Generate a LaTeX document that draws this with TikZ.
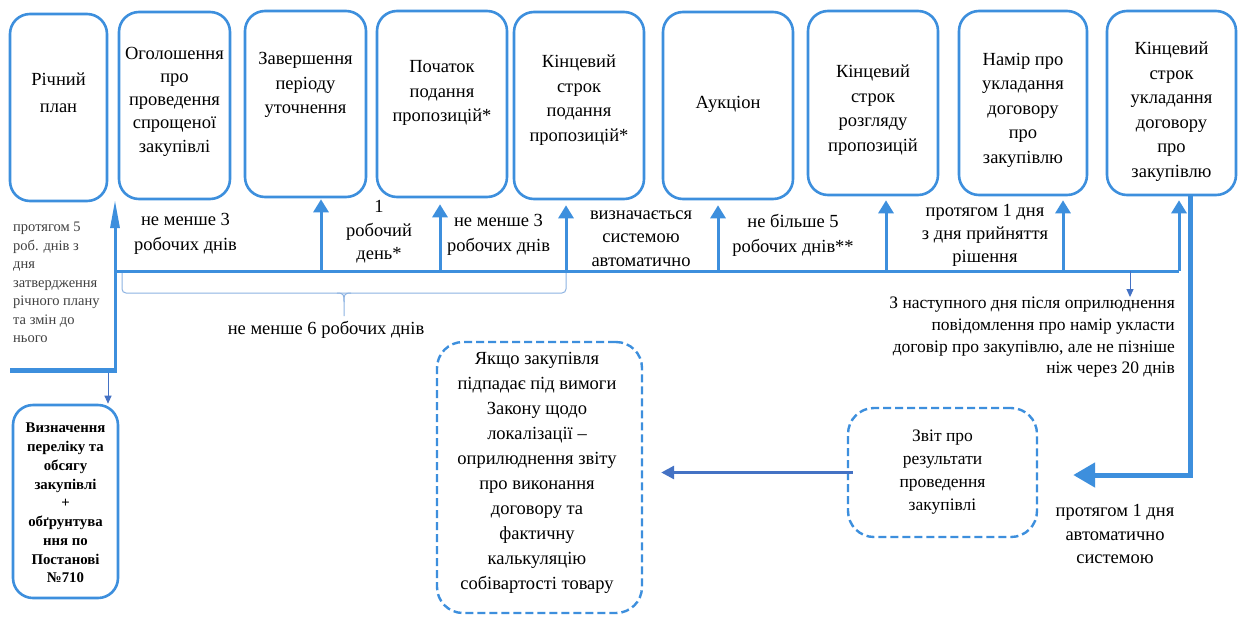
\documentclass[tikz,border=0pt]{standalone}
\usepackage{fontspec}
\setmainfont{LiberationSerif}[Extension=.ttf, UprightFont=*-Regular, BoldFont=*-Bold, ItalicFont=*-Italic, BoldItalicFont=*-BoldItalic]
\usetikzlibrary{arrows.meta}
\definecolor{bl}{RGB}{61,143,221}
\definecolor{dbl}{RGB}{68,114,196}
\definecolor{lbl}{RGB}{141,179,226}
\definecolor{gr}{RGB}{64,64,64}
\begin{document}
\begin{tikzpicture}[x=1pt,y=-1pt,
  box/.style={draw=bl, line width=2.6pt, rounded corners=20pt, inner sep=0pt},
  dbox/.style={draw=bl, line width=2.4pt, rounded corners=26pt, dash pattern=on 8pt off 4pt, inner sep=0pt},
  txt/.style={align=center, font=\fontsize{18.5}{24.5}\selectfont, inner sep=0pt},
  upar/.style={draw=bl, line width=3pt, -{Triangle[width=15pt,length=13pt]}, shorten >=4pt},
  thinar/.style={draw=dbl, line width=1pt, -{Triangle[width=7pt,length=8pt]}},
]
\useasboundingbox[fill=white] (0,0) rectangle (1238,616);

% top boxes
\node[box, minimum width=97pt,  minimum height=187pt] (b1) at (58.5,107.5) {};
\node[box, minimum width=111pt, minimum height=187pt] (b2) at (174.5,105.5) {};
\node[box, minimum width=121pt, minimum height=186pt] (b3) at (305.5,104) {};
\node[box, minimum width=130pt, minimum height=186pt] (b4) at (442,104) {};
\node[box, minimum width=130pt, minimum height=187pt] (b5) at (579,105.5) {};
\node[box, minimum width=130pt, minimum height=187pt] (b6) at (728,105.5) {};
\node[box, minimum width=130pt, minimum height=184pt] (b7) at (873,103) {};
\node[box, minimum width=128pt, minimum height=184pt] (b8) at (1023,103) {};
\node[box, minimum width=129pt, minimum height=184pt] (b9) at (1171.5,103) {};

% top box texts
\node[txt, font=\fontsize{18.5}{27}\selectfont] (t1) at (58.5,93) {Річний\\план};
\node[txt, font=\fontsize{18.5}{23.3}\selectfont] (t2) at (174.5,101.5) {Оголошення\\про\\проведення\\спрощеної\\закупівлі};
\node[txt] (t3) at (305.5,85) {Завершення\\періоду\\уточнення};
\node[txt] (t4) at (442,93) {Початок\\подання\\пропозицій*};
\node[txt] (t5) at (579,100) {Кінцевий\\строк\\подання\\пропозицій*};
\node[txt] (t6) at (728,104) {Аукціон};
\node[txt] (t7) at (873,110) {Кінцевий\\строк\\розгляду\\пропозицій};
\node[txt] (t8) at (1023,110) {Намір про\\укладання\\договору\\про\\закупівлю};
\node[txt] (t9) at (1171.5,111.5) {Кінцевий\\строк\\укладання\\договору\\про\\закупівлю};

% lower boxes
\node[box, minimum width=105pt, minimum height=193pt] (bv) at (65.5,501.5) {};
\node[txt, font=\fontsize{14.8}{18.75}\selectfont\bfseries] (tv) at (65.5,503) {Визначення\\переліку та\\обсягу\\закупівлі\\+\\обґрунтува\\ння по\\Постанові\\№710};
\node[dbox, minimum width=189pt, minimum height=129pt] (zv) at (942.5,472.5) {};
\node[txt, font=\fontsize{17.5}{23}\selectfont] (tz) at (942.5,472) {Звіт про\\результати\\проведення\\закупівлі};
\node[dbox, minimum width=205pt, minimum height=271pt] (lv) at (539.5,477.5) {};
\node[txt, font=\fontsize{18.5}{25}\selectfont] (tl) at (537,472.5) {Якщо закупівля\\підпадає під вимоги\\Закону щодо\\локалізації –\\оприлюднення звіту\\про виконання\\договору та\\фактичну\\калькуляцію\\собівартості товару};

% labels
\node[txt, font=\fontsize{18.5}{25}\selectfont] (l1) at (185.5,233.5) {не менше 3\\робочих днів};
\node[txt, font=\fontsize{18.5}{23.5}\selectfont] (l2) at (379,232) {1\\робочий\\день*};
\node[txt, font=\fontsize{18.5}{25}\selectfont] (l3) at (498.5,234.5) {не менше 3\\робочих днів};
\node[txt, font=\fontsize{18.5}{23.5}\selectfont] (l4) at (641,238.5) {визначається\\системою\\автоматично};
\node[txt, font=\fontsize{18.5}{25}\selectfont] (l5) at (793,235.5) {не більше 5\\робочих днів**};
\node[txt, font=\fontsize{18.5}{23}\selectfont] (l6) at (985,235) {протягом 1 дня\\з дня прийняття\\рішення};
\node[txt] (l7) at (326,330) {не менше 6 робочих днів};
\node[txt, align=left, anchor=west, text=gr, font=\fontsize{14.5}{18.5}\selectfont] (l8) at (13,282.5) {протягом 5\\роб. днів з\\дня\\затвердження\\річного плану\\та змін до\\нього};
\node[txt, align=right, anchor=east, font=\fontsize{17.5}{21.7}\selectfont] (l9) at (1175,337.5) {З наступного дня після оприлюднення\\повідомлення про намір укласти\\договір про закупівлю, але не пізніше\\ніж через 20 днів};
\node[txt, font=\fontsize{18.5}{23.5}\selectfont] (l10) at (1115,534) {протягом 1 дня\\автоматично\\системою};

% timeline and arrows
\coordinate (L0) at (115,271);
\coordinate (a1) at (115,370.5);
\coordinate (a1t) at (115,200);
\coordinate (a3) at (321,271);
\coordinate (a4) at (440,271);
\coordinate (a5) at (566,271);
\coordinate (a6) at (718,271);
\coordinate (a7) at (886,271);
\coordinate (a8) at (1063,271);
\coordinate (a9) at (1179,271);

\draw[lbl, line width=1pt, rounded corners=4pt] (122,272) -- (122,293) -- (566,293) -- (566,272);
\draw[lbl, line width=1pt] (337,293) .. controls (344,293) and (344,295) .. (344,302) -- (344,316);
\draw[lbl, line width=1pt] (351,293) .. controls (344,293) and (344,295) .. (344,302);

\draw[bl, line width=5pt] (10,370.5) -- (116.5,370.5);
\draw[bl, line width=3pt, -{Triangle[width=9pt,length=28pt]}] (a1) -- (a1t);
\draw[bl, line width=3pt] (L0) -- (a9);
\draw[upar, shorten >=1pt] (a3) -- (a3 |- b3.south);
\draw[upar, shorten >=6pt] (a4) -- (a4 |- b4.south);
\draw[upar, shorten >=5pt] (a5) -- (a5 |- b5.south);
\draw[upar, shorten >=5pt] (a6) -- (a6 |- b6.south);
\draw[upar] (a7) -- (a7 |- b7.south);
\draw[upar] (a8) -- (a8 |- b8.south);
\draw[upar] (a9) -- (a9 |- b9.south);

\coordinate (c1) at (108,372.5);
\draw[thinar] (c1) -- (c1 |- bv.north);
\coordinate (n0) at (1130,271);
\draw[thinar] (n0) -- (n0 |- l9.north);

\coordinate (d1) at (1190,475);
\draw[bl, line width=5pt, line join=miter, shorten >=35pt, -{Triangle[width=24pt,length=22pt]}] (d1 |- b9.south) -- (d1) -- (zv.east |- d1);
\draw[dbl, line width=3pt, shorten <=-6pt, shorten >=18pt, -{Triangle[width=13pt,length=13pt]}] (zv.west) -- (zv.west -| lv.east);
\end{tikzpicture}
\end{document}
